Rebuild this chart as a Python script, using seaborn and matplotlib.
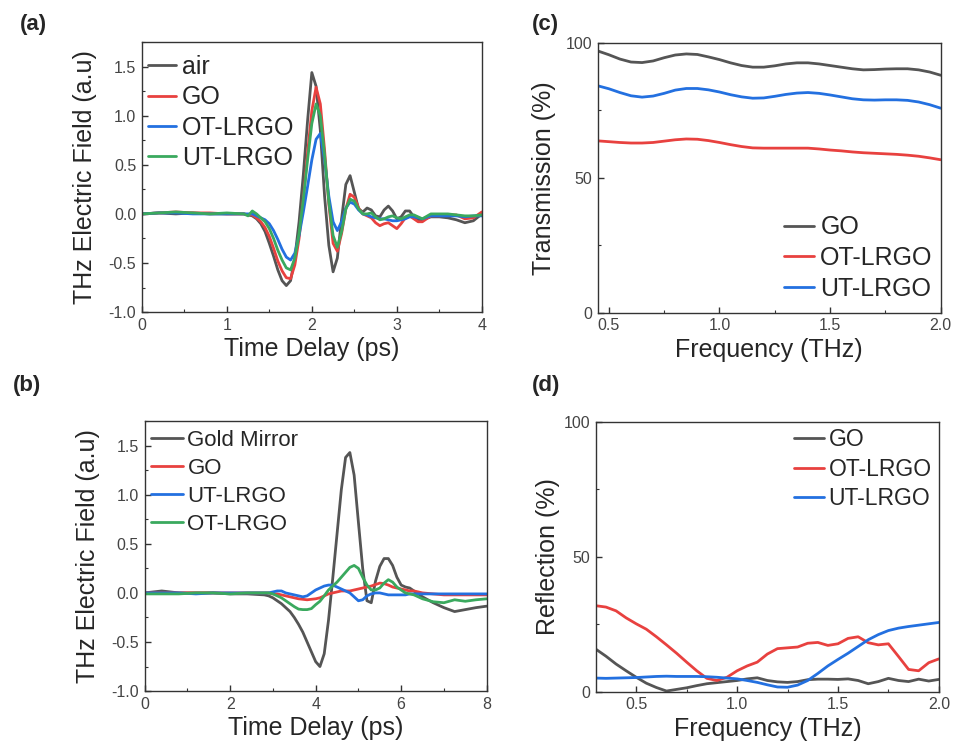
import numpy as np
import pandas as pd
import matplotlib
matplotlib.use("Agg")
import matplotlib.pyplot as plt
from matplotlib.ticker import MultipleLocator, FormatStrFormatter
import seaborn as sns

# ---------------- data ----------------
# (a) transmission time-domain
t_a = [0.0, 0.2, 0.4, 0.6, 0.8, 1.0, 1.2, 1.25, 1.3, 1.35, 1.4, 1.45, 1.5, 1.55, 1.6, 1.65,
       1.7, 1.75, 1.8, 1.85, 1.9, 1.95, 2.0, 2.05, 2.1, 2.15, 2.2, 2.25, 2.3, 2.35, 2.4,
       2.45, 2.5, 2.55, 2.6, 2.65, 2.7, 2.75, 2.8, 2.85, 2.9, 2.95, 3.0, 3.05, 3.1, 3.15,
       3.2, 3.25, 3.3, 3.4, 3.5, 3.6, 3.7, 3.8, 3.9, 4.0]
e_air = [0.0, 0.01, 0.0, 0.01, 0.0, 0.0, 0.0, -0.01, -0.02, -0.05, -0.10, -0.18, -0.30, -0.43,
         -0.57, -0.68, -0.73, -0.68, -0.45, -0.08, 0.40, 0.95, 1.44, 1.30, 0.85, 0.18, -0.32,
         -0.59, -0.45, -0.05, 0.30, 0.39, 0.22, 0.05, 0.02, 0.06, 0.04, -0.02, -0.03, 0.04,
         0.08, 0.03, -0.05, -0.03, 0.03, 0.03, -0.03, -0.06, -0.06, -0.03, -0.03, -0.04,
         -0.06, -0.09, -0.07, 0.0]
e_go_a = [0.0, 0.01, 0.02, 0.01, 0.01, 0.0, 0.0, -0.01, -0.01, -0.04, -0.08, -0.14, -0.23,
          -0.35, -0.48, -0.58, -0.65, -0.66, -0.52, -0.25, 0.15, 0.62, 1.05, 1.29, 1.12,
          0.65, 0.10, -0.30, -0.38, -0.20, 0.05, 0.20, 0.17, 0.06, 0.0, -0.02, -0.04, -0.09,
          -0.12, -0.10, -0.09, -0.12, -0.15, -0.10, -0.04, -0.02, -0.05, -0.08, -0.08, -0.02,
          -0.02, -0.01, -0.01, -0.05, -0.04, 0.02]
e_ot_a = [0.0, 0.01, 0.01, 0.0, 0.0, 0.0, 0.0, 0.0, 0.0, -0.02, -0.04, -0.06, -0.10, -0.17,
          -0.26, -0.36, -0.44, -0.47, -0.40, -0.22, 0.02, 0.28, 0.55, 0.76, 0.82, 0.55, 0.18,
          -0.08, -0.17, -0.08, 0.06, 0.12, 0.10, 0.04, 0.0, -0.01, -0.03, -0.04, -0.05, -0.05,
          -0.06, -0.07, -0.07, -0.06, -0.05, -0.03, -0.03, -0.04, -0.05, -0.02, -0.02, -0.02,
          -0.02, -0.03, -0.02, -0.02]
e_ut_a = [0.0, 0.01, 0.02, 0.01, 0.0, 0.01, 0.0, -0.02, 0.03, 0.0, -0.04, -0.08, -0.15, -0.25,
          -0.37, -0.47, -0.55, -0.57, -0.45, -0.20, 0.15, 0.55, 0.92, 1.12, 1.00, 0.60, 0.12,
          -0.22, -0.34, -0.18, 0.05, 0.15, 0.13, 0.05, 0.0, 0.0, 0.01, -0.03, -0.06, -0.05,
          -0.03, -0.02, -0.04, -0.05, -0.03, -0.01, -0.01, -0.03, -0.05, 0.0, 0.0, 0.0, -0.01,
          -0.02, -0.02, -0.01]
labels_a = ["air", "GO", "OT-LRGO", "UT-LRGO"]

# (b) reflection time-domain
t_b = [0.0, 0.4, 0.8, 1.2, 1.6, 2.0, 2.4, 2.8, 2.9, 3.0, 3.1, 3.2, 3.3, 3.4, 3.5, 3.6, 3.7,
       3.8, 3.9, 4.0, 4.1, 4.2, 4.3, 4.4, 4.5, 4.6, 4.7, 4.8, 4.9, 5.0, 5.1, 5.2, 5.3, 5.4,
       5.5, 5.6, 5.7, 5.8, 5.9, 6.0, 6.1, 6.2, 6.3, 6.4, 6.5, 6.75, 7.0, 7.25, 7.5, 7.75, 8.0]
e_gold = [0.0, 0.02, 0.0, 0.0, 0.0, -0.01, -0.01, -0.02, -0.03, -0.05, -0.08, -0.11, -0.15,
          -0.19, -0.25, -0.32, -0.40, -0.50, -0.60, -0.70, -0.75, -0.62, -0.28, 0.15, 0.60,
          1.05, 1.38, 1.43, 1.20, 0.72, 0.25, -0.08, -0.10, 0.12, 0.27, 0.35, 0.35, 0.28,
          0.16, 0.08, 0.06, 0.05, 0.02, -0.01, -0.04, -0.10, -0.15, -0.19, -0.17, -0.15, -0.135]
e_go_b = [0.0, 0.0, 0.0, 0.0, 0.0, 0.0, 0.0, 0.0, 0.0, -0.01, -0.01, -0.02, -0.03, -0.04,
          -0.05, -0.06, -0.065, -0.07, -0.065, -0.06, -0.05, -0.03, -0.01, 0.0, 0.01, 0.02,
          0.02, 0.02, 0.03, 0.04, 0.05, 0.06, 0.07, 0.085, 0.10, 0.095, 0.08, 0.06, 0.05, 0.04,
          0.03, 0.02, 0.02, 0.01, 0.0, -0.01, -0.02, -0.02, -0.02, -0.02, -0.02]
e_ut_b = [0.0, 0.0, 0.0, -0.01, 0.0, 0.0, 0.0, 0.0, 0.0, 0.01, 0.02, 0.02, 0.0, -0.01, -0.02,
          -0.03, -0.04, -0.03, 0.0, 0.03, 0.05, 0.07, 0.08, 0.08, 0.06, 0.04, 0.02, 0.0, -0.04,
          -0.08, -0.07, -0.03, -0.01, 0.0, 0.0, -0.01, -0.02, -0.02, -0.02, -0.02, -0.02, -0.01,
          -0.01, -0.01, -0.01, -0.01, -0.01, -0.01, -0.01, -0.01, -0.01]
e_ot_b = [-0.01, -0.01, -0.01, 0.0, 0.0, -0.01, 0.0, 0.0, 0.0, -0.01, -0.03, -0.05, -0.08,
          -0.11, -0.14, -0.165, -0.17, -0.17, -0.16, -0.12, -0.085, -0.03, 0.03, 0.07, 0.11,
          0.16, 0.21, 0.26, 0.28, 0.25, 0.16, 0.08, 0.03, 0.03, 0.05, 0.10, 0.135, 0.11, 0.06,
          0.03, 0.0, -0.01, -0.02, -0.04, -0.06, -0.09, -0.10, -0.07, -0.085, -0.07, -0.06]
labels_b = ["Gold Mirror", "GO", "UT-LRGO", "OT-LRGO"]

# (c) transmission spectra
f_c = [0.45, 0.5, 0.55, 0.6, 0.65, 0.7, 0.75, 0.8, 0.85, 0.9, 0.95, 1.0, 1.05, 1.1, 1.15,
       1.2, 1.25, 1.3, 1.35, 1.4, 1.45, 1.5, 1.55, 1.6, 1.65, 1.7, 1.75, 1.8, 1.85, 1.9,
       1.95, 2.0]
T_go = [97.0, 95.6, 94.0, 92.9, 92.7, 93.3, 94.5, 95.5, 95.9, 95.7, 94.8, 93.8, 92.6, 91.6,
        91.0, 91.0, 91.5, 92.2, 92.6, 92.6, 92.2, 91.6, 91.0, 90.4, 90.0, 90.1, 90.3, 90.4,
        90.4, 90.0, 89.2, 88.0]
T_ot = [63.7, 63.4, 63.1, 62.9, 62.9, 63.1, 63.6, 64.1, 64.4, 64.3, 63.8, 63.1, 62.3, 61.6,
        61.1, 61.0, 61.0, 61.0, 61.0, 61.0, 60.7, 60.3, 60.0, 59.6, 59.3, 59.1, 58.9, 58.7,
        58.4, 58.0, 57.4, 56.7]
T_ut = [84.1, 83.0, 81.6, 80.4, 79.9, 80.3, 81.3, 82.5, 83.1, 83.1, 82.6, 81.8, 80.8, 80.0,
        79.5, 79.6, 80.2, 80.9, 81.4, 81.6, 81.3, 80.7, 80.0, 79.3, 78.9, 78.8, 78.9, 78.9,
        78.7, 78.1, 77.1, 75.8]

# (d) reflection spectra
f_d = [0.30, 0.35, 0.40, 0.45, 0.50, 0.55, 0.60, 0.65, 0.70, 0.75, 0.80, 0.85, 0.90, 0.95,
       1.00, 1.05, 1.10, 1.15, 1.20, 1.25, 1.30, 1.35, 1.40, 1.45, 1.50, 1.55, 1.60, 1.65,
       1.70, 1.75, 1.80, 1.85, 1.90, 1.95, 2.00]
R_go = [15.8, 13.2, 10.3, 7.8, 5.4, 3.2, 1.6, 0.3, 0.9, 1.5, 2.3, 3.0, 3.4, 3.8, 4.2, 4.8,
        5.2, 4.2, 3.7, 3.5, 3.8, 4.5, 4.7, 4.7, 4.6, 4.8, 4.2, 3.0, 3.8, 5.0, 4.2, 3.8, 4.7,
        4.0, 4.6]
R_ot = [31.9, 31.4, 30.0, 27.4, 25.2, 23.2, 20.4, 17.4, 14.3, 11.0, 7.8, 5.0, 4.2, 5.4, 7.8,
        9.6, 11.0, 14.0, 16.0, 16.3, 16.6, 18.0, 18.3, 17.2, 17.8, 19.8, 20.4, 18.2, 17.4,
        17.8, 13.1, 8.3, 7.8, 10.8, 12.2]
R_ut = [5.1, 5.0, 5.1, 5.2, 5.3, 5.5, 5.7, 5.8, 5.7, 5.7, 5.7, 5.6, 5.4, 5.1, 4.8, 4.2, 3.5,
        2.6, 1.8, 1.7, 2.5, 4.2, 6.8, 9.6, 12.0, 14.3, 16.8, 19.3, 21.2, 22.7, 23.6, 24.2,
        24.7, 25.2, 25.7]
labels_cd = ["GO", "OT-LRGO", "UT-LRGO"]

# ---------------- style ----------------
GRAY, RED, BLUE, GREEN = "#555555", "#e8413f", "#2370e0", "#3aa95e"
sns.set_style("ticks")
plt.rcParams["font.family"] = ["Liberation Sans", "DejaVu Sans"]
plt.rcParams["axes.edgecolor"] = "#333333"
plt.rcParams["axes.linewidth"] = 1.0

fig = plt.figure(figsize=(9.58, 7.52), dpi=100)
ax_a = fig.add_axes([0.148, 0.585, 0.355, 0.359])
ax_c = fig.add_axes([0.624, 0.584, 0.358, 0.359])
ax_b = fig.add_axes([0.151, 0.081, 0.357, 0.359])
ax_d = fig.add_axes([0.622, 0.080, 0.358, 0.359])


def long_df(x, series, names):
    frames = [pd.DataFrame({"x": x, "y": s, "name": n}) for s, n in zip(series, names)]
    return pd.concat(frames, ignore_index=True)


def draw(ax, df, names, colors, lw=2.0):
    sns.lineplot(data=df, x="x", y="y", hue="name", hue_order=names,
                 palette=dict(zip(names, colors)), estimator=None, sort=False,
                 linewidth=lw, ax=ax)


def style(ax, xlab, ylab, xmaj, xmin, ymaj, ymin, xlim, ylim, ypad):
    ax.set_xlim(*xlim)
    ax.set_ylim(*ylim)
    ax.xaxis.set_major_locator(MultipleLocator(xmaj))
    ax.xaxis.set_minor_locator(MultipleLocator(xmin))
    ax.yaxis.set_major_locator(MultipleLocator(ymaj))
    ax.yaxis.set_minor_locator(MultipleLocator(ymin))
    ax.tick_params(which="both", direction="in", top=False, right=False,
                   colors="#333333", labelcolor="#444444", labelsize=11.5)
    ax.tick_params(which="major", length=4, width=1, pad=4)
    ax.tick_params(which="minor", length=2.5, width=0.8)
    ax.set_xlabel(xlab, fontsize=18, labelpad=3)
    ax.set_ylabel(ylab, fontsize=18, labelpad=ypad)
    for s in ax.spines.values():
        s.set_visible(True)


# (a)
draw(ax_a, long_df(t_a, [e_air, e_go_a, e_ot_a, e_ut_a], labels_a), labels_a,
     [GRAY, RED, BLUE, GREEN])
style(ax_a, "Time Delay (ps)", "THz Electric Field (a.u)", 1, 0.5, 0.5, 0.25,
      (0, 4), (-1.0, 1.75), 8.6)
ax_a.yaxis.set_major_formatter(FormatStrFormatter("%.1f"))
ax_a.legend(loc="upper left", frameon=False, fontsize=18, handlelength=1.12,
            handletextpad=0.24, labelspacing=0.25, borderaxespad=0.0,
            bbox_to_anchor=(-0.012, 0.989))

# (b)
draw(ax_b, long_df(t_b, [e_gold, e_go_b, e_ut_b, e_ot_b], labels_b), labels_b,
     [GRAY, RED, BLUE, GREEN])
style(ax_b, "Time Delay (ps)", "THz Electric Field (a.u)", 2, 1, 0.5, 0.25,
      (0, 8), (-1.0, 1.75), 8.6)
ax_b.yaxis.set_major_formatter(FormatStrFormatter("%.1f"))
ax_b.legend(loc="upper left", frameon=False, fontsize=16, handlelength=1.4,
            handletextpad=0.22, labelspacing=0.31, borderaxespad=0.0,
            bbox_to_anchor=(-0.006, 1.0))

# (c)
draw(ax_c, long_df(f_c, [T_go, T_ot, T_ut], labels_cd), labels_cd, [GRAY, RED, BLUE])
style(ax_c, "Frequency (THz)", "Transmission (%)", 0.5, 0.25, 50, 25,
      (0.45, 2.0), (0, 100), 7.2)
ax_c.xaxis.set_major_formatter(FormatStrFormatter("%.1f"))
ax_c.legend(loc="lower right", frameon=False, fontsize=18, handlelength=1.2,
            handletextpad=0.24, labelspacing=0.27, borderaxespad=0.0,
            bbox_to_anchor=(1.006, 0.007))

# (d)
draw(ax_d, long_df(f_d, [R_go, R_ot, R_ut], labels_cd), labels_cd, [GRAY, RED, BLUE])
style(ax_d, "Frequency (THz)", "Reflection (%)", 0.5, 0.25, 50, 25,
      (0.3, 2.0), (0, 100), 2.8)
ax_d.xaxis.set_major_formatter(FormatStrFormatter("%.1f"))
ax_d.legend(loc="upper right", frameon=False, fontsize=16.5, handlelength=1.27,
            handletextpad=0.22, labelspacing=0.29, borderaxespad=0.0,
            bbox_to_anchor=(1.006, 1.011))

# panel letters
for txt, x, y in [("(a)", 0.021, 0.968), ("(c)", 0.555, 0.967),
                  ("(b)", 0.0136, 0.488), ("(d)", 0.555, 0.488)]:
    fig.text(x, y, txt, fontsize=16, fontweight="bold", va="center", ha="left")

fig.savefig("out.png", dpi=100)
